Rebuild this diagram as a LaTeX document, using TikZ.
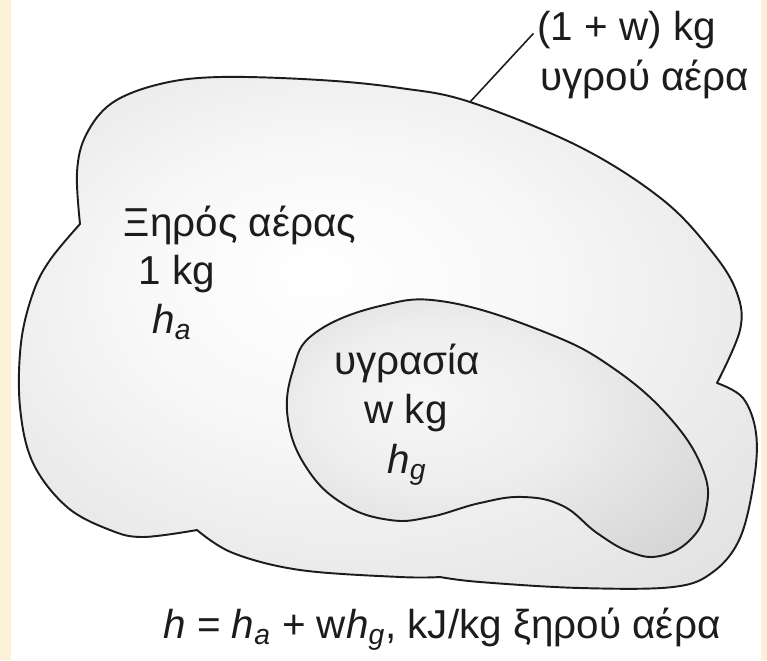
\documentclass[tikz,border=0pt]{standalone}
\usepackage{fontspec}
\setmainfont{Liberation Sans}
\definecolor{paper}{RGB}{251,240,216}
\definecolor{ink}{RGB}{28,28,28}
\pgfdeclareradialshading{airglow}{\pgfpoint{-5bp}{6bp}}{%
  color(0bp)=(white); color(14bp)=(white!97!black);
  color(34bp)=(white!89!black); color(50bp)=(white!81!black)}
\pgfdeclareradialshading{dropglow}{\pgfpoint{-10bp}{6bp}}{%
  color(0bp)=(white!97!black); color(16bp)=(white!93!black);
  color(34bp)=(white!84!black); color(50bp)=(white!76!black)}

\begin{document}
\begin{tikzpicture}[
      x=0.02cm, y=-0.02cm,
      blob/.style={draw=ink, line width=1.1pt, line join=round},
      leader/.style={draw=ink, line width=0.9pt, shorten >=3pt},
      lbl/.style={text=ink, inner sep=0pt, font=\fontsize{23}{28}\selectfont}
    ]
    \useasboundingbox (0,0) rectangle (767,660);
    \fill[white] (0,0) rectangle (767,660);
    \fill[paper] (0,0) rectangle (11,660);
    \fill[paper] (761,0) rectangle (767,660);

    % moist air parcel
    \path[blob, shading=airglow]
      plot[smooth, tension=0.6] coordinates {(80,224) (77,172) (86,135)
        (112,103) (160,84) (220,77) (320,80) (400,88) (470,102) (580,147)
        (663,200) (713,253) (737,293) (740,330) (717,383)}
      -- plot[smooth, tension=0.6] coordinates {(717,383) (743,398)
        (756,433) (754,480) (740,538) (713,572) (673,587) (580,588)
        (480,582) (440,577)}
      -- plot[smooth, tension=0.6] coordinates {(440,577) (400,577)
        (300,570) (233,553) (197,530)}
      -- plot[smooth, tension=0.6] coordinates {(197,530) (143,537)
        (110,530) (67,507) (33,463) (20,407) (21,343) (33,293) (50,260)
        (80,224)}
      -- cycle;

    % water vapour inside
    \path[blob, shading=dropglow]
      plot[smooth cycle, tension=0.7] coordinates {(447,302) (547,333)
        (613,368) (670,418) (703,470) (706,510) (690,540) (660,556)
        (630,552) (597,533) (563,506) (523,497) (480,503) (430,517)
        (390,520) (345,505) (308,470) (288,420) (293,370) (315,333)
        (380,306)};

    \node[lbl, anchor=base west] (wettop) at (537,40) {(1 + w) kg};
    \node[lbl, anchor=base west] (wetbot) at (540,90) {υγρού αέρα};
    \coordinate (touch) at (470,102);
    \draw[leader] (touch) -- (wettop.west);

    \node[lbl, anchor=base] (dryname) at (240,236) {Ξηρός αέρας};
    \node[lbl, anchor=base] (drymass) at (177,284) {1 kg};
    \node[lbl, anchor=base] (dryenth) at (172,333) {\itshape h\textsubscript{a}};

    \node[lbl, anchor=base] (vapname) at (407,374) {υγρασία};
    \node[lbl, anchor=base] (vapmass) at (406,423) {w kg};
    \node[lbl, anchor=base] (vapenth) at (407,473) {\itshape h\textsubscript{g}};

    \node[lbl, anchor=base west] (balance) at (163,638)
      {\textit{h} = \textit{h}\textsubscript{\textit{a}} + w\textit{h}\textsubscript{\textit{g}}, kJ/kg ξηρού αέρα};
  \end{tikzpicture}
\end{document}
